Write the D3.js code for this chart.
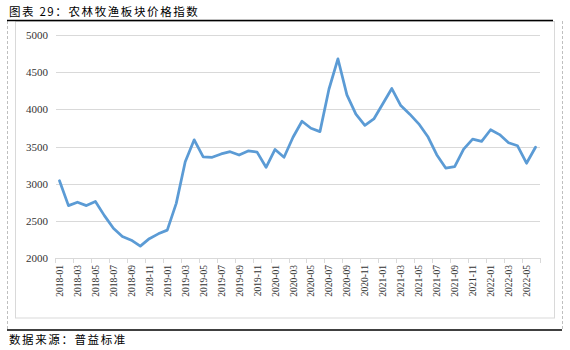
<!DOCTYPE html>
<html><head><meta charset="utf-8">
<script src="https://cdn.jsdelivr.net/npm/d3@7/dist/d3.min.js"></script>
<style>
html,body{margin:0;padding:0;background:#fff;}
svg{display:block;}
</style></head>
<body>
<svg id="c" width="570" height="350"></svg>
<script>
const titleText = "图表 29：农林牧渔板块价格指数";
const sourceText = "数据来源：普益标准";
const categories = [];
for (let y = 2018; y <= 2022; y++) {
  for (let m = 1; m <= 12; m++) {
    if (y === 2022 && m > 6) break;
    categories.push(y + "-" + String(m).padStart(2, "0"));
  }
}
const values = [
  3040, 2705, 2750, 2705, 2760, 2570, 2400, 2290, 2240, 2160,
  2260, 2325, 2375, 2735, 3295, 3590, 3360, 3355, 3400, 3430,
  3385, 3440, 3425, 3220, 3460, 3355, 3625, 3840, 3745, 3700,
  4270, 4680, 4195, 3935, 3785, 3870, 4075, 4280, 4050, 3935,
  3805, 3635, 3390, 3210, 3230, 3465, 3600, 3570, 3725, 3660,
  3550, 3510, 3275, 3490
];
const yTicks = [2000, 2500, 3000, 3500, 4000, 4500, 5000];

const svg = d3.select("#c");
const x = d3.scaleBand().domain(categories).range([55, 540]).padding(0);
const y = d3.scaleLinear().domain([2000, 5000]).range([258, 35]);
const bw = x.bandwidth();

// frame
svg.append("line").attr("x1", 7.5).attr("x2", 7.5).attr("y1", 21).attr("y2", 330)
  .attr("stroke", "#BFBFBF").attr("stroke-dasharray", "3,2");
svg.append("line").attr("x1", 562.5).attr("x2", 562.5).attr("y1", 21).attr("y2", 330)
  .attr("stroke", "#BFBFBF").attr("stroke-dasharray", "3,2");
svg.append("rect").attr("x", 15.5).attr("y", 21.5).attr("width", 539).attr("height", 296.5)
  .attr("fill", "none").attr("stroke", "#D9D9D9");
svg.append("line").attr("x1", 7).attr("x2", 553).attr("y1", 20.5).attr("y2", 20.5)
  .attr("stroke", "#000").attr("stroke-width", 1.5);
svg.append("line").attr("x1", 7).attr("x2", 562).attr("y1", 330).attr("y2", 330)
  .attr("stroke", "#000").attr("stroke-width", 1.5);

// title & source
svg.append("text").attr("x", 9).attr("y", 15.5).text(titleText)
  .attr("font-family", "'Noto Sans CJK SC', sans-serif").attr("font-size", 11.5)
  .attr("letter-spacing", 1.6).attr("fill", "#000");
svg.append("text").attr("x", 9).attr("y", 344).text(sourceText)
  .attr("font-family", "'Noto Sans CJK SC', sans-serif").attr("font-size", 11.5)
  .attr("letter-spacing", 1.6).attr("fill", "#000");

// gridlines
svg.append("g").selectAll("line").data(yTicks.filter(d => d !== 2000)).join("line")
  .attr("x1", 56).attr("x2", 540)
  .attr("y1", d => Math.round(y(d)) + 0.5).attr("y2", d => Math.round(y(d)) + 0.5)
  .attr("stroke", "#D9D9D9").attr("stroke-width", 1);

// y axis labels
const yAxis = d3.axisLeft(y).tickValues(yTicks).tickSize(0).tickPadding(0).tickFormat(d3.format("d"));
const gy = svg.append("g").attr("transform", "translate(48,0)").call(yAxis);
gy.select(".domain").remove();
gy.selectAll("text").attr("font-family", "'Liberation Serif', serif").attr("font-size", 11)
  .attr("fill", "#333");

// x axis
const labelCats = categories.filter((d, i) => i % 2 === 0);
const tickPos = labelCats.map(c => x(c)).concat([x.range()[1]]);
const gx = svg.append("g");
gx.append("line").attr("x1", 55).attr("x2", 540).attr("y1", 258.5).attr("y2", 258.5)
  .attr("stroke", "#D9D9D9");
gx.selectAll("line.t").data(tickPos).join("line").attr("class", "t")
  .attr("x1", d => Math.round(d) + 0.5).attr("x2", d => Math.round(d) + 0.5)
  .attr("y1", 258).attr("y2", 263).attr("stroke", "#D9D9D9");
gx.selectAll("text").data(labelCats).join("text")
  .attr("transform", d => `translate(${x(d) + bw / 2 + 3.5},265) rotate(-90)`)
  .attr("text-anchor", "end")
  .attr("font-family", "'Liberation Serif', serif").attr("font-size", 9.5)
  .attr("fill", "#333").text(d => d);

// line
const line = d3.line().x((d, i) => x(categories[i]) + bw / 2).y(d => y(d));
svg.append("path").datum(values).attr("d", line)
  .attr("fill", "none").attr("stroke", "#5B9BD5").attr("stroke-width", 2.75)
  .attr("stroke-linejoin", "round").attr("stroke-linecap", "round");
</script>
</body></html>
